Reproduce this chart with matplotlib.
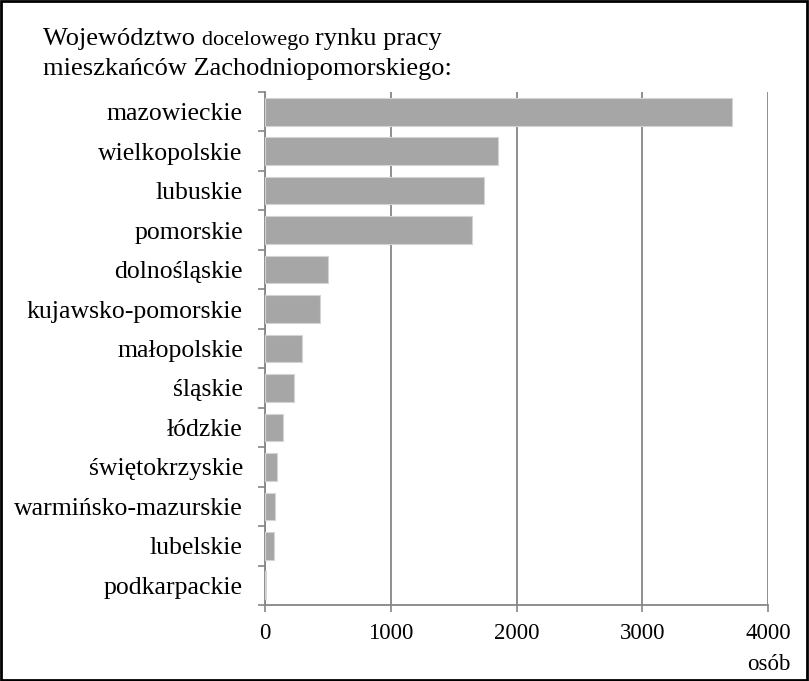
import matplotlib.pyplot as plt
from matplotlib.patches import Rectangle
import numpy as np

# Dane: województwa docelowego rynku pracy
wojewodztwa = ['mazowieckie', 'wielkopolskie', 'lubuskie', 'pomorskie',
               'dolnośląskie', 'kujawsko-pomorskie', 'małopolskie', 'śląskie',
               'łódzkie', 'świętokrzyskie', 'warmińsko-mazurskie', 'lubelskie',
               'podkarpackie']
osoby = [3717, 1853, 1742, 1647, 500, 439, 291, 230, 146, 95, 77, 74, 10]
x_ticks = [0, 1000, 2000, 3000, 4000]

plt.rcParams['font.family'] = ['Liberation Serif', 'DejaVu Serif']

fig = plt.figure(figsize=(8.09, 6.81), dpi=100)
ax = fig.add_axes([265 / 809, 1 - 605 / 681, 503 / 809, 513 / 681])

y = np.arange(len(wojewodztwa))
ax.barh(y, osoby, height=0.7, color='#a6a6a6', edgecolor='#d4d4d4',
        linewidth=0.8, zorder=3)

ax.set_xlim(0, 4000)
ax.set_ylim(len(wojewodztwa) - 0.5, -0.5)
ax.set_xticks(x_ticks)
ax.set_xticklabels([str(v) for v in x_ticks], fontsize=16.5)
ax.tick_params(axis='x', length=5, width=1.2, color='#868686', pad=8)

# ticki na granicach kategorii, etykiety na środkach
ax.set_yticks(np.arange(len(wojewodztwa) + 1) - 0.5)
ax.set_yticklabels([])
ax.set_yticks(y, minor=True)
ax.set_yticklabels(wojewodztwa, minor=True, fontsize=18.5)
ax.tick_params(axis='y', which='major', length=5, width=1.2, color='#868686')
ax.tick_params(axis='y', which='minor', length=0, pad=16)

ax.grid(axis='x', color='#868686', linewidth=1.3, zorder=0)
for s in ['top', 'right']:
    ax.spines[s].set_visible(False)
for s in ['left', 'bottom']:
    ax.spines[s].set_color('#868686')
    ax.spines[s].set_linewidth(1.3)

# tytuł z mniejszym słowem w środku
renderer = fig.canvas.get_renderer()
x0 = 43 / 809
yb = 1 - 45 / 681
for txt, fs in [('Województwo ', 19), ('docelowego ', 16), ('rynku pracy', 19)]:
    t = fig.text(x0, yb, txt, fontsize=fs, va='baseline', ha='left')
    bb = t.get_window_extent(renderer)
    x0 = bb.x1 / fig.bbox.width
fig.text(43 / 809, 1 - 75 / 681, 'mieszkańców Zachodniopomorskiego:',
         fontsize=19, va='baseline', ha='left')

fig.text(790 / 809, 1 - 664 / 681, 'osób', fontsize=16.5, ha='right', va='center')

fig.patches.append(Rectangle((0.001, 0.001), 0.997, 0.997, transform=fig.transFigure,
                             fill=False, edgecolor='black', linewidth=2))

fig.savefig('out.png', dpi=100)
